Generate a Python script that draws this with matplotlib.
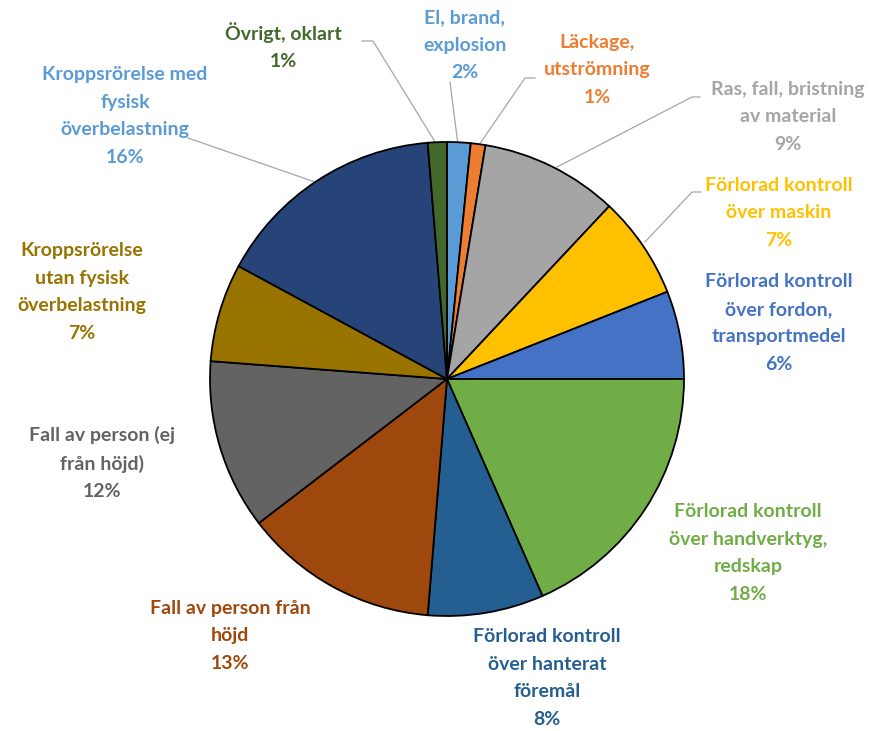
import numpy as np
import matplotlib
matplotlib.use("Agg")
import matplotlib.pyplot as plt

# slice data (clockwise from 12 o'clock)
categories = [
    "El, brand,\nexplosion",
    "Läckage,\nutströmning",
    "Ras, fall, bristning\nav material",
    "Förlorad kontroll\növer maskin",
    "Förlorad kontroll\növer fordon,\ntransportmedel",
    "Förlorad kontroll\növer handverktyg,\nredskap",
    "Förlorad kontroll\növer hanterat\nföremål",
    "Fall av person från\nhöjd",
    "Fall av person (ej\nfrån höjd)",
    "Kroppsrörelse\nutan fysisk\növerbelastning",
    "Kroppsrörelse med\nfysisk\növerbelastning",
    "Övrigt, oklart",
]
values = [1.6, 1.0, 9.4, 7.0, 6.0, 18.4, 7.9, 13.3, 11.6, 6.7, 15.8, 1.3]
colors = ["#5B9BD5", "#ED7D31", "#A5A5A5", "#FFC000", "#4472C4", "#70AD47",
          "#255E91", "#9E480E", "#636363", "#997300", "#264478", "#43682B"]
label_colors = ["#5B9BD5", "#ED7D31", "#A5A5A5", "#FFC000", "#4472C4", "#70AD47",
                "#255E91", "#9E480E", "#636363", "#997300", "#5B9BD5", "#43682B"]

# label centres in pixels (x, y from top)
label_pos = [(465, 45), (597, 70), (788, 117), (779, 213), (779, 323),
             (748, 553), (547, 678), (230, 636), (102, 463), (82, 292),
             (125, 116), (283, 46)]
# leader lines in pixels, None where Excel draws none
leaders = [
    [(450, 82), (458, 145)],
    [(535, 78), (525, 78), (479, 145)],
    [(700, 97), (692, 97), (557, 167)],
    [(701, 192), (692, 192), (645, 242)],
    None, None, None, None, None, None,
    [(188, 138), (315, 182)],
    [(362, 41), (373, 41), (437, 145)],
]

W, H = 876, 731
fig = plt.figure(figsize=(W / 100, H / 100), dpi=100)
ax = fig.add_axes([0, 0, 1, 1])

ax.pie(values, colors=colors, startangle=90, counterclock=False,
       center=(447, H - 379), radius=237, frame=True,
       wedgeprops=dict(edgecolor="black", linewidth=1.3))

for cat, v, c, (x, y) in zip(categories, values, label_colors, label_pos):
    ax.text(x, H - y, f"{cat}\n{v:.0f}%", color=c, fontsize=14,
            fontweight="bold", family=["Lato", "DejaVu Sans"],
            ha="center", va="center", multialignment="center",
            linespacing=1.75)

for pts in leaders:
    if pts is None:
        continue
    xs = [p[0] for p in pts]
    ys = [H - p[1] for p in pts]
    ax.plot(xs, ys, color="#A6A6A6", linewidth=0.9, zorder=0)

ax.set_xlim(0, W)
ax.set_ylim(0, H)
ax.set_aspect("auto")
ax.axis("off")

fig.savefig("out.png", dpi=100)
